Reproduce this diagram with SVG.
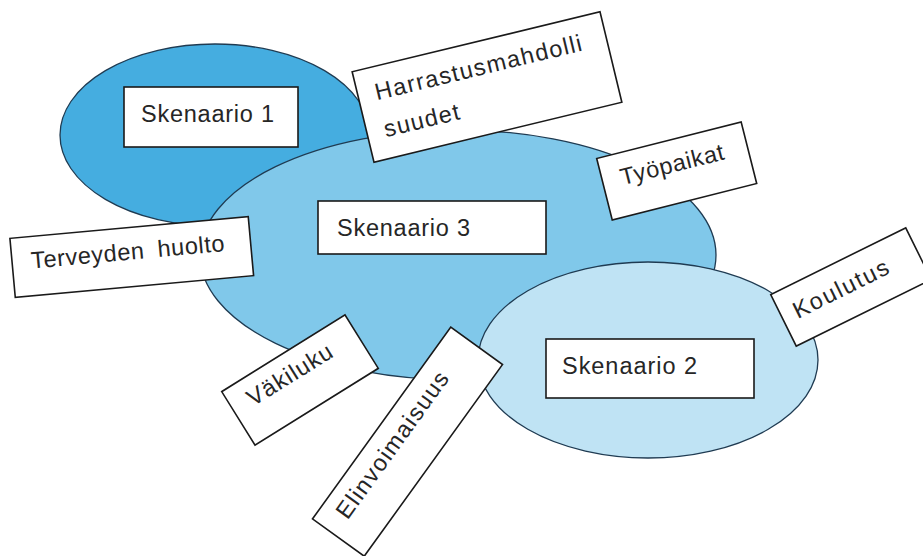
<svg xmlns="http://www.w3.org/2000/svg" width="923" height="556" viewBox="0 0 923 556">
<style>
.ell{stroke:#1f3b52;stroke-width:1.3}
.box{fill:#fff;stroke:#1a1a1a;stroke-width:1.6}
.t{font-family:"Liberation Sans",Arial,sans-serif;font-size:23.5px;fill:#262626}
</style>
<rect width="923" height="556" fill="#fff"/>
<g id="skenaario1-area"><ellipse class="ell" cx="215" cy="135" rx="155" ry="91" fill="#45ade0"/></g>
<g id="skenaario3-area"><ellipse class="ell" cx="458" cy="255" rx="258" ry="125" fill="#80c8ea"/></g>
<g id="skenaario2-area"><ellipse class="ell" cx="648" cy="360" rx="170" ry="98" fill="#bfe3f4"/></g>
<g id="skenaario1"><rect class="box" x="124" y="87" width="174" height="60"/><text class="t" x="141" y="122" textLength="133">Skenaario 1</text></g>
<g id="skenaario3"><rect class="box" x="318" y="201" width="228" height="53"/><text class="t" x="337" y="236" textLength="133">Skenaario 3</text></g>
<g id="skenaario2"><rect class="box" x="546" y="339" width="208" height="59"/><text class="t" x="562" y="374" textLength="135">Skenaario 2</text></g>
<g id="harrastus" transform="translate(487,87) rotate(-13.6)"><rect class="box" x="-127.5" y="-46.5" width="255" height="93"/><text class="t" x="-110" y="-13" textLength="212">Harrastusmahdolli</text><text class="t" x="-110" y="25" textLength="77">suudet</text></g>
<g id="tyopaikat" transform="translate(676.7,171) rotate(-14.2)"><rect class="box" x="-74.5" y="-31.7" width="149" height="63.4"/><text class="t" x="-56" y="0.5" textLength="106">Työpaikat</text></g>
<g id="terveyden" transform="translate(131.7,257) rotate(-5.2)"><rect class="box" x="-119.6" y="-29.6" width="239.3" height="59.2"/><text class="t" x="-100.5" y="2.5" textLength="194" word-spacing="6">Terveyden huolto</text></g>
<g id="koulutus" transform="translate(851,287) rotate(-26.3)"><rect class="box" x="-75.3" y="-28.8" width="150.6" height="57.6"/><text class="t" x="-62" y="5" textLength="104">Koulutus</text></g>
<g id="vakiluku" transform="translate(300,380) rotate(-31.9)"><rect class="box" x="-72.6" y="-31.5" width="145.2" height="63"/><text class="t" x="-54" y="-2" textLength="96">Väkiluku</text></g>
<g id="elinvoimaisuus" transform="translate(407.5,441.7) rotate(-54.2)"><rect class="box" x="-118.2" y="-31.9" width="236.4" height="63.8"/><text class="t" x="-99" y="-2.5" textLength="175">Elinvoimaisuus</text></g>
</svg>
